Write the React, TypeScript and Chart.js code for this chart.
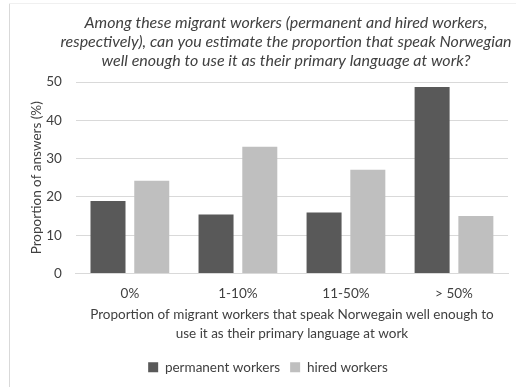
import React, { useEffect, useRef } from "react";
import { Chart, registerables } from "chart.js";

Chart.register(...registerables);

const categories = ["0%", "1-10%", "11-50%", "> 50%"];
const permanentWorkers = [18.9, 15.4, 15.9, 48.7];
const hiredWorkers = [24.2, 33.1, 27.1, 15.0];
const seriesNames = ["permanent workers", "hired workers"];
const titleLines = [
  "Among these migrant workers (permanent and hired workers,",
  "respectively), can you estimate the proportion that speak Norwegian",
  "well enough to use it as their primary language at work?",
];
const xTitleLines = [
  "Proportion of migrant workers that speak Norwegain well enough to",
  "use it as their primary language at work",
];
const yTitle = "Proportion of answers (%)";

const FONT = "Lato, 'Liberation Sans', sans-serif";
const TEXT = "#404040";

const frame = {
  id: "frame",
  beforeDraw(chart: any) {
    const ctx = chart.ctx;
    ctx.save();
    ctx.strokeStyle = "#d9d9d9";
    ctx.lineWidth = 1;
    ctx.beginPath();
    ctx.moveTo(9.5, 3);
    ctx.lineTo(9.5, 387);
    ctx.stroke();
    ctx.strokeStyle = "#f0f0f0";
    ctx.beginPath();
    ctx.moveTo(9, 3.5);
    ctx.lineTo(516, 3.5);
    ctx.stroke();
    ctx.restore();
  },
};

const italicTitle = {
  id: "italicTitle",
  afterDraw(chart: any) {
    const ctx = chart.ctx;
    ctx.save();
    ctx.fillStyle = TEXT;
    ctx.font = `italic 16px ${FONT}`;
    ctx.textAlign = "center";
    ctx.textBaseline = "middle";
    titleLines.forEach((line, i) => {
      ctx.fillText(line, 286, 23 + i * 19);
    });
    ctx.restore();
  },
};

export default function App() {
  const ref = useRef<HTMLCanvasElement | null>(null);
  useEffect(() => {
    if (!ref.current) return;
    const chart = new Chart(ref.current, {
      type: "bar",
      data: {
        labels: categories,
        datasets: [
          {
            label: seriesNames[0],
            data: permanentWorkers,
            backgroundColor: "#595959",
            categoryPercentage: 0.81,
            barPercentage: 0.8,
          },
          {
            label: seriesNames[1],
            data: hiredWorkers,
            backgroundColor: "#bfbfbf",
            categoryPercentage: 0.81,
            barPercentage: 0.8,
          },
        ],
      },
      options: {
        responsive: false,
        animation: false,
        layout: { padding: { left: 28, right: 8, top: 82, bottom: 3 } },
        plugins: {
          title: { display: false },
          legend: {
            position: "bottom",
            labels: {
              color: TEXT,
              font: { family: FONT, size: 13.5 },
              boxWidth: 10,
              boxHeight: 10,
              padding: 10,
            },
          },
          tooltip: { enabled: false },
        },
        scales: {
          x: {
            grid: {
              display: true,
              color: "rgba(0,0,0,0)",
              drawTicks: true,
              tickLength: 12,
              tickColor: "rgba(0,0,0,0)",
            },
            border: { display: true, color: "#d9d9d9" },
            ticks: { color: TEXT, font: { family: FONT, size: 13.5 }, padding: 0 },
            title: {
              display: true,
              text: xTitleLines,
              color: TEXT,
              font: { family: FONT, size: 13.5, lineHeight: 1.4 },
              padding: { top: 3.5, bottom: 7.5 },
            },
          },
          y: {
            min: 0,
            max: 50,
            ticks: { stepSize: 10, color: TEXT, font: { family: FONT, size: 13.5 }, padding: 0 },
            grid: {
              color: "#d9d9d9",
              drawTicks: true,
              tickLength: 14,
              tickColor: "rgba(0,0,0,0)",
            },
            border: { display: false },
            title: {
              display: true,
              text: yTitle,
              color: TEXT,
              font: { family: FONT, size: 13.5 },
              padding: { top: 1, bottom: 1 },
            },
          },
        },
      },
      plugins: [frame, italicTitle],
    });
    return () => chart.destroy();
  }, []);
  return (
    <div style={{ position: "fixed", left: 0, top: 0, width: 516, height: 387, background: "#fff" }}>
      <canvas ref={ref} width={516} height={387} style={{ display: "block" }} />
    </div>
  );
}
